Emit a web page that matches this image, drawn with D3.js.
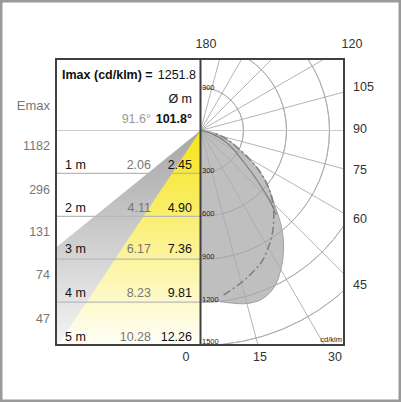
<!DOCTYPE html>
<html>
<head>
<meta charset="utf-8">
<script src="https://cdn.jsdelivr.net/npm/d3@7"></script>
<style>
  html, body { margin: 0; padding: 0; background: white; }
  svg { display: block; }
  text { font-family: "Liberation Sans", Arial, sans-serif; }
</style>
</head>
<body>
<div id="chart"></div>
<script>
// Define constants and variables
const width = 401;
const height = 402;

// polar curves, [angle from nadir, cd/klm]
const fillCurve = [[0,1185],[5,1195],[10,1222],[15,1250],[20,1252],[25,1210],[30,1121],[35,1010],[40,880],[45,730],[50,620],[55,510],[60,390],[65,285],[70,215],[75,150],[80,90],[85,40],[90,0]];
const dashCurve = [[8,1159],[15,1099],[20,1055],[25,1010],[30,945],[35,875],[40,795],[45,715],[50,620],[55,510],[60,390],[65,285],[70,215],[75,150],[80,90]];
const innerCurve = [[90,0],[80,30],[70,130],[65,200],[60,270],[55,350],[50,480],[45,672],[42,790]];

const intensityTicks = [300, 600, 900, 1200, 1500];
const spokeAngles = [15, 30, 45, 60, 75, 105, 120, 135, 150, 165];

const distances = ["1 m", "2 m", "3 m", "4 m", "5 m"];
const distanceValues = [1, 2, 3, 4];
const emax = ["1182", "296", "131", "74", "47"];
const diamGray = ["2.06", "4.11", "6.17", "8.23", "10.28"];
const diamBlack = ["2.45", "4.90", "7.36", "9.81", "12.26"];

const rightLabels = ["105", "90", "75", "60", "45"];
const rightLabelY = [91, 133, 174, 223, 289];
const bottomLabels = ["0", "15", "30"];
const bottomLabelX = [186, 260, 335];

const grayBeam = 51;
const yellowBeam = 33.6;

const box = { left: 56, top: 59, right: 344, bottom: 345 };
const cx = 200.5;
const cy = 130.5;

const r = d3.scaleLinear().domain([0, 1500]).range([0, 215]);
const angle = d3.scaleLinear().domain([0, 180]).range([Math.PI, 0]);
const rowY = d3.scaleLinear().domain([0, 5]).range([cy, box.bottom]);

const svg = d3.select("#chart").append("svg").attr("width", width).attr("height", height);
const defs = svg.append("defs");

defs.append("clipPath").attr("id", "clipR").append("rect")
  .attr("x", cx).attr("y", box.top).attr("width", box.right - cx).attr("height", box.bottom - box.top);
defs.append("clipPath").attr("id", "clipL").append("rect")
  .attr("x", box.left).attr("y", cy).attr("width", cx - box.left).attr("height", box.bottom - cy);

// gradients run from the light centre down to the box bottom
function fade(id, top, bottom) {
  const g = defs.append("linearGradient").attr("id", id).attr("gradientUnits", "userSpaceOnUse")
    .attr("x1", 0).attr("x2", 0).attr("y1", 0).attr("y2", box.bottom + 6 - cy);
  g.append("stop").attr("offset", 0).attr("stop-color", top);
  g.append("stop").attr("offset", 1).attr("stop-color", bottom);
}
fade("grayFade", "#a6a6a6", "#f6f6f6");
fade("yellowFade", "#f6e416", "#ffffff");

// outer frame
svg.append("rect").attr("x", 1.25).attr("y", 1.25).attr("width", width - 2.5).attr("height", height - 2.5)
  .attr("fill", "white").attr("stroke", "#9a9a9a").attr("stroke-width", 2.5);

// beam cones on the left side
const arc = d3.arc().innerRadius(0).outerRadius(400);
const left = svg.append("g").attr("clip-path", "url(#clipL)").append("g").attr("transform", `translate(${cx},${cy})`);
left.append("path").attr("d", arc({ startAngle: angle(-grayBeam), endAngle: angle(0) })).attr("fill", "url(#grayFade)");
left.append("path").attr("d", arc({ startAngle: angle(-yellowBeam), endAngle: angle(0) })).attr("fill", "url(#yellowFade)");

// distance rows
svg.selectAll(".row").data(distanceValues).enter().append("line")
  .attr("class", "row")
  .attr("x1", box.left).attr("x2", cx)
  .attr("y1", d => rowY(d)).attr("y2", d => rowY(d))
  .attr("stroke", "#b8b8b8").attr("stroke-width", 1.2);
svg.append("line").attr("x1", box.left).attr("x2", box.right).attr("y1", cy).attr("y2", cy)
  .attr("stroke", "#cccccc").attr("stroke-width", 1.2);

// polar part on the right side
const polar = svg.append("g").attr("clip-path", "url(#clipR)").append("g").attr("transform", `translate(${cx},${cy})`);
const curve = d3.lineRadial().angle(d => angle(d[0])).radius(d => r(d[1])).curve(d3.curveCatmullRom);

polar.append("path").attr("d", curve(fillCurve) + "L0,0Z")
  .attr("fill", "#bfbfbf").attr("stroke", "#a0a0a0").attr("stroke-width", 1);

const ringArc = d3.arc().startAngle(0).endAngle(Math.PI);
polar.selectAll(".ring").data(intensityTicks).enter().append("path")
  .attr("class", "ring")
  .attr("d", d => ringArc({ innerRadius: r(d), outerRadius: r(d) }))
  .attr("fill", "none").attr("stroke", "#acacac").attr("stroke-width", 0.9);

polar.selectAll(".spoke").data(spokeAngles).enter().append("line")
  .attr("class", "spoke")
  .attr("x1", 0).attr("y1", 0)
  .attr("x2", d => d3.pointRadial(angle(d), 400)[0])
  .attr("y2", d => d3.pointRadial(angle(d), 400)[1])
  .attr("stroke", "#acacac").attr("stroke-width", 0.9);

polar.append("path").attr("d", curve(innerCurve))
  .attr("fill", "none").attr("stroke", "#7d7d7d").attr("stroke-width", 1.2);
polar.append("path").attr("d", curve(dashCurve))
  .attr("fill", "none").attr("stroke", "#808080").attr("stroke-width", 1.6)
  .attr("stroke-dasharray", "8 3 2 3");

// small intensity labels
const small = (x, y, s) => svg.append("text").attr("x", x).attr("y", y).text(s)
  .attr("font-size", 7.5).attr("fill", "#222");
small(202, 89.5, "300");
intensityTicks.forEach(d => small(202, cy + r(d) + (d === 1500 ? -1.5 : -0.5), String(d)));
svg.append("text").attr("x", 342).attr("y", 342).attr("text-anchor", "end")
  .attr("font-size", 7.5).attr("fill", "#222").text("cd/klm");

// box
svg.append("line").attr("x1", cx).attr("x2", cx).attr("y1", box.top).attr("y2", box.bottom)
  .attr("stroke", "#404040").attr("stroke-width", 2);
svg.append("rect").attr("x", box.left).attr("y", box.top)
  .attr("width", box.right - box.left).attr("height", box.bottom - box.top)
  .attr("fill", "none").attr("stroke", "#404040").attr("stroke-width", 2);

// header text
const label = (x, y, s, anchor, color, size, weight) => svg.append("text")
  .attr("x", x).attr("y", y).attr("text-anchor", anchor).attr("fill", color)
  .attr("font-size", size).attr("font-weight", weight || "normal").text(s);

label(62, 79, "Imax (cd/klm) =", "start", "#111", 12.5, "bold");
label(196, 79, "1251.8", "end", "#111", 12.5);
label(192, 103, "Ø m", "end", "#111", 12.5);
label(151, 123, "91.6°", "end", "#999", 12.5);
label(192, 123, "101.8°", "end", "#111", 12.5, "bold");
label(50, 110, "Emax", "end", "#777", 13);

// rows of values
const emaxY = [150, 194, 236, 279, 323];
const rowTextY = [169, 212, 253, 297, 341];
emax.forEach((d, i) => label(50, emaxY[i], d, "end", "#777", 12.5));
distances.forEach((d, i) => label(65, rowTextY[i], d, "start", "#111", 12.5));
diamGray.forEach((d, i) => label(151, rowTextY[i], d, "end", "#777", 12.5));
diamBlack.forEach((d, i) => label(192, rowTextY[i], d, "end", "#111", 12.5));

// angle labels around the box
label(206, 48, "180", "middle", "#333", 12.5);
label(352, 48, "120", "middle", "#333", 12.5);
rightLabels.forEach((d, i) => label(353, rightLabelY[i], d, "start", "#333", 12.5));
bottomLabels.forEach((d, i) => label(bottomLabelX[i], 361, d, "middle", "#333", 12.5));
</script>
</body>
</html>
